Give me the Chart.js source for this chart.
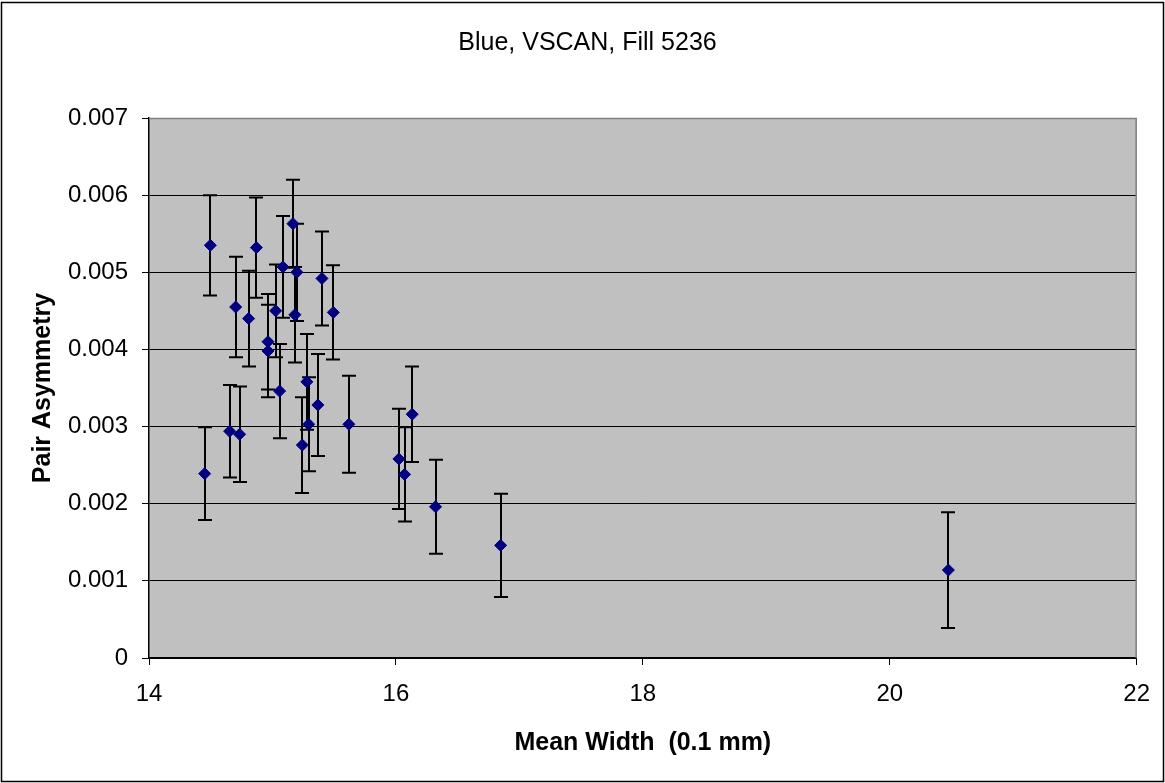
<!DOCTYPE html>
<html>
<head>
<meta charset="utf-8">
<script src="https://cdn.jsdelivr.net/npm/chart.js@4/dist/chart.umd.min.js"></script>
<style>
  html, body { margin: 0; padding: 0; background: #ffffff; }
  #wrap { width: 1165px; height: 783px; position: relative; }
</style>
</head>
<body>
<div id="wrap"><canvas id="c" width="1165" height="783"></canvas></div>
<script>
// ---- data ----
const meanWidth = [14.497, 14.451, 14.653, 14.734, 14.702, 14.807, 14.870, 14.964, 14.964, 15.026,
                   15.058, 15.085, 15.166, 15.198, 15.182, 15.242, 15.279, 15.293, 15.368, 15.401,
                   15.493, 15.619, 16.024, 16.070, 16.132, 16.321, 16.848, 20.475];
const pairAsymmetry = [0.00535, 0.00239, 0.00294, 0.00290, 0.00455, 0.00440, 0.00532, 0.00410, 0.00398, 0.00450,
                       0.00346, 0.00507, 0.00563, 0.00500, 0.00445, 0.00276, 0.00358, 0.00303, 0.00328, 0.00492,
                       0.00448, 0.00303, 0.00258, 0.00238, 0.00316, 0.00196, 0.00146, 0.00114];
const asymError = [0.00065, 0.00060, 0.00060, 0.00062, 0.00065, 0.00062, 0.00065, 0.00062, 0.00060, 0.00060,
                   0.00061, 0.00066, 0.00057, 0.00063, 0.00062, 0.00062, 0.00062, 0.00061, 0.00066, 0.00061,
                   0.00061, 0.00063, 0.00065, 0.00061, 0.00062, 0.00061, 0.00067, 0.00075];
const xTickLabels = ['14', '16', '18', '20', '22'];
const yTickLabels = ['0', '0.001', '0.002', '0.003', '0.004', '0.005', '0.006', '0.007'];
const chartTitle = 'Blue, VSCAN, Fill 5236';
const xTitle = 'Mean Width  (0.1 mm)';
const yTitle = 'Pair Asymmetry';

const points = meanWidth.map((x, i) => ({ x: x, y: pairAsymmetry[i] }));

const FONT = "'Liberation Sans', Arial, sans-serif";

const bgPlugin = {
  id: 'bg',
  beforeDraw(chart) {
    const { ctx, chartArea: a } = chart;
    ctx.save();
    ctx.fillStyle = '#ffffff';
    ctx.fillRect(0, 0, chart.width, chart.height);
    ctx.fillStyle = '#c0c0c0';
    ctx.fillRect(a.left, a.top, a.right - a.left, a.bottom - a.top);
    ctx.restore();
  },
  afterDraw(chart) {
    const { ctx } = chart;
    ctx.save();
    // chart title (centred on the whole chart box)
    ctx.fillStyle = '#000000';
    ctx.font = "normal 25px " + FONT;
    ctx.textAlign = 'center';
    ctx.textBaseline = 'middle';
    ctx.fillText(chartTitle, 587.5, 43);
    // outer frame
    ctx.strokeStyle = '#000000';
    ctx.lineWidth = 1.5;
    ctx.strokeRect(1.5, 2.5, chart.width - 3, chart.height - 4);
    ctx.restore();
  }
};

const errPlugin = {
  id: 'errbars',
  beforeDatasetsDraw(chart) {
    const { ctx, chartArea: a } = chart;
    const xs = chart.scales.x, ys = chart.scales.y;
    ctx.save();
    // gray top/right frame of plot area
    ctx.strokeStyle = '#808080';
    ctx.lineWidth = 1.5;
    ctx.beginPath();
    ctx.moveTo(a.left, a.top + 0.5);
    ctx.lineTo(a.right - 0.5, a.top + 0.5);
    ctx.lineTo(a.right - 0.5, a.bottom);
    ctx.stroke();
    // error bars
    ctx.strokeStyle = '#000000';
    ctx.lineWidth = 2;
    const cap = 7;
    for (let i = 0; i < meanWidth.length; i++) {
      const px = Math.round(xs.getPixelForValue(meanWidth[i]));
      const yt = ys.getPixelForValue(pairAsymmetry[i] + asymError[i]);
      const yb = ys.getPixelForValue(pairAsymmetry[i] - asymError[i]);
      ctx.beginPath();
      ctx.moveTo(px, yt); ctx.lineTo(px, yb);
      ctx.moveTo(px - cap, yt); ctx.lineTo(px + cap, yt);
      ctx.moveTo(px - cap, yb); ctx.lineTo(px + cap, yb);
      ctx.stroke();
    }
    ctx.restore();
  }
};

new Chart(document.getElementById('c'), {
  type: 'scatter',
  data: {
    datasets: [{
      data: points,
      pointStyle: 'rectRot',
      pointRadius: 6,
      pointHoverRadius: 6,
      backgroundColor: '#000080',
      borderColor: '#000080',
      borderWidth: 1
    }]
  },
  options: {
    responsive: false,
    animation: false,
    devicePixelRatio: 1,
    layout: { padding: { top: 118, right: 28, bottom: 0, left: 0 } },
    plugins: {
      legend: { display: false },
      tooltip: { enabled: false },
      title: { display: false }
    },
    scales: {
      x: {
        type: 'linear',
        min: 14, max: 22,
        afterBuildTicks(scale) {
          scale.ticks = xTickLabels.map(v => ({ value: Number(v) }));
        },
        afterFit(scale) { scale.height = 125; },
        ticks: {
          color: '#000000',
          font: { family: FONT, size: 24 },
          padding: 15,
          maxRotation: 0,
          autoSkip: false,
          callback: (v, i) => xTickLabels[i]
        },
        grid: {
          drawOnChartArea: false,
          drawTicks: true,
          tickLength: 7,
          color: '#000000',
          lineWidth: 1
        },
        border: { display: true, color: '#000000', width: 1.5 },
        title: {
          display: true,
          text: xTitle,
          color: '#000000',
          font: { family: FONT, size: 25, weight: 'bold', lineHeight: 1.2 },
          padding: { top: 0, bottom: 25 }
        }
      },
      y: {
        type: 'linear',
        min: 0, max: 0.007,
        afterBuildTicks(scale) {
          scale.ticks = yTickLabels.map(v => ({ value: Number(v) }));
        },
        afterFit(scale) { scale.width = 149; },
        ticks: {
          color: '#000000',
          font: { family: FONT, size: 24 },
          padding: 14,
          autoSkip: false,
          callback: (v, i) => yTickLabels[i]
        },
        grid: {
          drawOnChartArea: true,
          drawTicks: true,
          tickLength: 7,
          color: '#000000',
          lineWidth: 1
        },
        border: { display: true, color: '#000000', width: 1.5 },
        title: {
          display: true,
          text: yTitle,
          color: '#000000',
          font: { family: FONT, size: 25, weight: 'bold', lineHeight: 1.2 },
          padding: { top: 28, bottom: 0 }
        }
      }
    }
  },
  plugins: [bgPlugin, errPlugin]
});
</script>
</body>
</html>
